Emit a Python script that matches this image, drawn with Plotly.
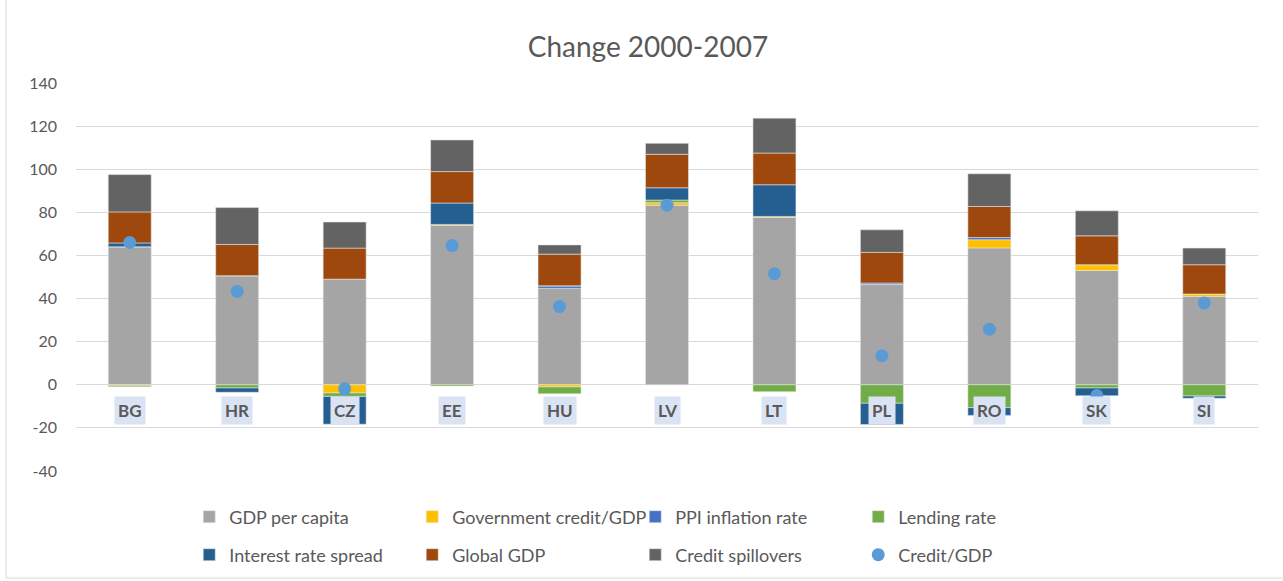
import plotly.graph_objects as go

# Contributions to the change in credit/GDP, 2000-2007 (percentage points)
countries = ["BG", "HR", "CZ", "EE", "HU", "LV", "LT", "PL", "RO", "SK", "SI"]
gdp_per_capita = [64.0, 50.6, 49.0, 73.9, 44.7, 83.3, 77.6, 46.5, 63.5, 53.0, 41.0]
government_credit = [-0.3, 0.0, -3.8, 0.5, -1.0, 1.2, 0.5, 0.0, 3.8, 2.7, 1.1]
ppi_inflation = [0.0, 0.0, 0.0, 0.0, 1.2, 0.0, 0.0, 0.7, 1.0, 0.0, 0.0]
lending_rate = [-0.6, -1.5, -1.6, -0.6, -3.2, 1.2, -3.2, -8.6, -10.6, -1.5, -5.2]
interest_spread = [1.8, -2.0, -12.9, 9.9, 0.0, 5.7, 14.7, -9.8, -3.6, -3.6, -1.1]
global_gdp = [14.4, 14.5, 14.4, 14.6, 14.7, 15.5, 14.7, 14.2, 14.4, 13.4, 13.6]
credit_spillovers = [17.3, 17.1, 12.1, 14.7, 4.3, 5.1, 16.2, 10.5, 15.2, 11.6, 7.7]
credit_gdp = [66.0, 43.3, -1.9, 64.6, 36.3, 83.3, 51.5, 13.5, 25.8, -5.0, 37.9]

y_ticks = [-40, -20, 0, 20, 40, 60, 80, 100, 120, 140]

FONT = "Lato"
TEXT = "#595959"

bar_series = [
    ("GDP per capita", gdp_per_capita, "#A5A5A5", "legend"),
    ("Government credit/GDP", government_credit, "#FFC000", "legend"),
    ("PPI inflation rate", ppi_inflation, "#4472C4", "legend"),
    ("Lending rate", lending_rate, "#70AD47", "legend"),
    ("Interest rate spread", interest_spread, "#255E91", "legend2"),
    ("Global GDP", global_gdp, "#9E480E", "legend2"),
    ("Credit spillovers", credit_spillovers, "#636363", "legend2"),
]

fig = go.Figure()
for name, vals, color, leg in bar_series:
    fig.add_trace(go.Bar(
        x=countries, y=vals, name=name, legend=leg,
        marker=dict(color=color, line=dict(color="rgba(230,230,230,0.8)", width=0.7)),
    ))

fig.add_trace(go.Scatter(
    x=countries, y=credit_gdp, name="Credit/GDP", mode="markers", legend="legend2",
    marker=dict(color="#5B9BD5", size=13),
))

# Category labels sit inside the plot just below zero, on a pale highlight
for c in countries:
    fig.add_annotation(
        x=c, y=-12, xref="x", yref="y", text="<b>" + c + "</b>", showarrow=False,
        font=dict(family=FONT, size=17, color=TEXT),
        bgcolor="#DAE3F3", borderpad=3,
    )

legend_common = dict(
    orientation="h", xref="paper", yref="paper", x=0.0958, xanchor="left",
    yanchor="middle", entrywidth=178, entrywidthmode="pixels",
    font=dict(family=FONT, size=18, color=TEXT), bgcolor="rgba(0,0,0,0)",
    traceorder="normal",
)

fig.update_layout(
    width=1283, height=581,
    margin=dict(l=76, r=25, t=83, b=110, autoexpand=False),
    paper_bgcolor="white", plot_bgcolor="white",
    barmode="relative", bargap=0.6,
    font=dict(family=FONT, color=TEXT),
    title=dict(
        text="Change 2000-2007", xref="container", yref="container",
        x=0.505, xanchor="center", y=1 - 47 / 581, yanchor="middle",
        font=dict(family=FONT, size=28, color=TEXT),
    ),
    xaxis=dict(range=[-0.5, len(countries) - 0.5], showticklabels=False, showgrid=False,
               showline=False, zeroline=False, ticks=""),
    yaxis=dict(range=[-40, 140], tickvals=y_ticks, ticktext=[str(v) for v in y_ticks],
               showgrid=True, gridcolor="#D9D9D9",
               gridwidth=1, zeroline=True, zerolinecolor="#D9D9D9", zerolinewidth=1,
               showline=False, ticks="", ticklabelstandoff=18,
               tickfont=dict(family=FONT, size=16, color=TEXT)),
    legend=dict(y=(471 - 517) / 388, **legend_common),
    legend2=dict(y=(471 - 555) / 388, **legend_common),
    shapes=[
        dict(type="line", xref="paper", yref="paper",
             x0=-70 / 1182, x1=-70 / 1182, y0=(471 - 578) / 388, y1=471 / 388 + 0.1,
             line=dict(color="#D9D9D9", width=1)),
        dict(type="line", xref="paper", yref="paper",
             x0=-70 / 1182, x1=1 + 30 / 1182, y0=(471 - 578) / 388, y1=(471 - 578) / 388,
             line=dict(color="#D9D9D9", width=1)),
    ],
)

fig.write_html("out.html")
